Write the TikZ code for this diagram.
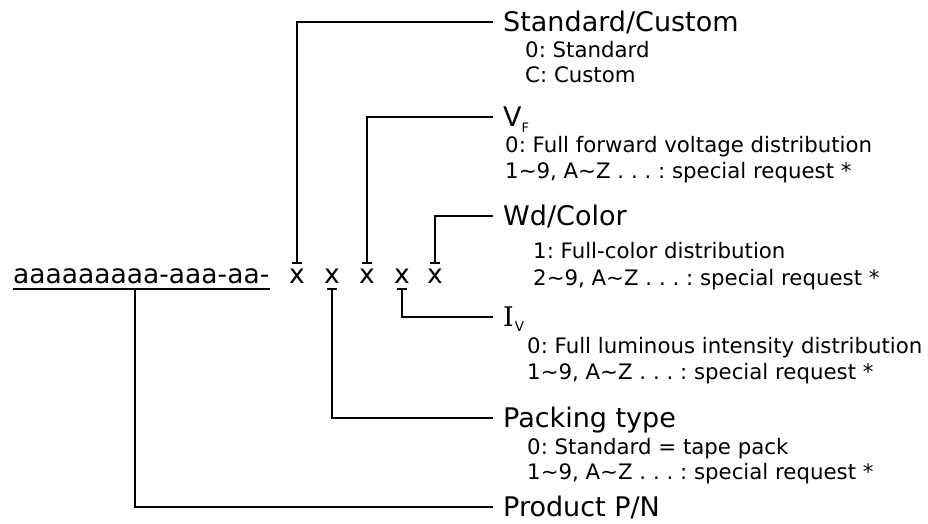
\documentclass[tikz,border=0pt]{standalone}
\usepackage{fontspec}
\setmainfont{DejaVu Sans}
\newfontfamily\serifI{DejaVu Serif}
\frenchspacing
\begin{document}
\begin{tikzpicture}[x=1pt,y=-1pt,
  wire/.style={line width=2.7pt,line cap=butt},
  head/.style={anchor=west,inner sep=0pt,font=\fontsize{27}{27}\selectfont,text height=19.7pt,text depth=0pt},
  sub/.style={anchor=base west,inner sep=0pt,font=\fontsize{21.3}{21.3}\selectfont},
  ch/.style={anchor=base,inner sep=0pt,font=\fontsize{26.5}{26.5}\selectfont,text height=14.5pt,text depth=0pt},
  pre/.style={anchor=base west,inner sep=0pt,font=\fontsize{26.5}{26.5}\selectfont,text height=14.5pt,text depth=0pt}]
\useasboundingbox (0,0) rectangle (928,523);

% prefix and digits
\node[pre] (prefix) at (13,283) {aaaaaaaaa-aaa-aa-};
\node[ch] (x1) at (297,283) {x};
\node[ch] (x2) at (332,283) {x};
\node[ch] (x3) at (367,283) {x};
\node[ch] (x4) at (402,283) {x};
\node[ch] (x5) at (435,283) {x};

% tick coordinates
\coordinate (t1) at (297,263);
\coordinate (t3) at (367,263);
\coordinate (t5) at (435,263);
\coordinate (b2) at (332,289);
\coordinate (b4) at (402,289);
\coordinate (bp) at (135,289);

% headings
\node[head] (sc) at (503,22) {Standard/Custom};
\node[head] (vf) at (503,117) {V\raisebox{-6pt}{\fontsize{13}{13}\selectfont F}};
\node[head] (wc) at (503,216) {Wd/Color};
\node[head] (iv) at (503,317) {{\serifI I}\kern1pt\raisebox{-5pt}{\fontsize{13.5}{13.5}\selectfont V}};
\node[head] (pt) at (503,418) {Packing type};
\node[head] (pn) at (503,507) {Product P/N};

% sub texts
\node[sub] (sc1) at (525,57) {0: Standard};
\node[sub] (sc2) at (525,82) {C: Custom};
\node[sub] (vf1) at (505,152) {0: Full forward voltage distribution};
\node[sub] (vf2) at (505,178) {1\textasciitilde 9, A\textasciitilde Z . . . : special request *};
\node[sub] (wc1) at (533,258) {1: Full-color distribution};
\node[sub] (wc2) at (533,285) {2\textasciitilde 9, A\textasciitilde Z . . . : special request *};
\node[sub] (iv1) at (527,353) {0: Full luminous intensity distribution};
\node[sub] (iv2) at (527,379) {1\textasciitilde 9, A\textasciitilde Z . . . : special request *};
\node[sub] (pt1) at (527,454) {0: Standard = tape pack};
\node[sub] (pt2) at (527,479) {1\textasciitilde 9, A\textasciitilde Z . . . : special request *};

% underline of prefix
\draw[wire] (13,289) -- (270,289);

% tick bars
\foreach \t in {t1,t3,t5,b2,b4}
  \draw[wire] ([xshift=-5pt]\t) -- ([xshift=5pt]\t);

% connectors
\draw[wire] (t1) |- ([xshift=-10pt]sc.west);
\draw[wire] (t3) |- ([xshift=-10pt]vf.west);
\draw[wire] (t5) |- ([xshift=-10pt]wc.west);
\draw[wire] (b4) |- ([xshift=-10pt]iv.west);
\draw[wire] (b2) |- ([xshift=-10pt]pt.west);
\draw[wire] (bp) |- ([xshift=-10pt]pn.west);
\end{tikzpicture}
\end{document}
